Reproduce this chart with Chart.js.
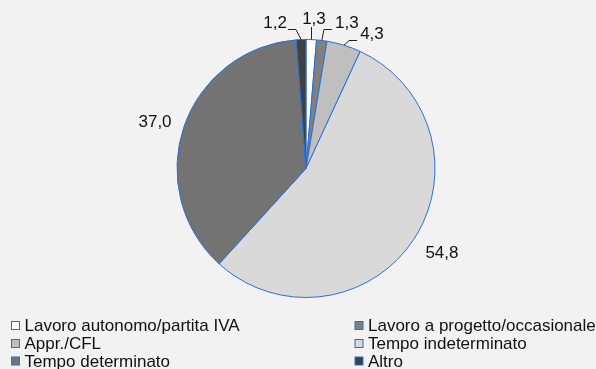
<!DOCTYPE html>
<html>
<head>
<meta charset="utf-8">
<script src="https://cdn.jsdelivr.net/npm/chart.js@4/dist/chart.umd.min.js"></script>
<style>
  html, body { margin: 0; padding: 0; background: #f2f2f2; }
  canvas { display: block; }
</style>
</head>
<body>
<canvas id="pie" width="596" height="369"></canvas>
<script>
/* ---------- data ---------- */
const categories = [
  "Lavoro autonomo/partita IVA",
  "Lavoro a progetto/occasionale",
  "Appr./CFL",
  "Tempo indeterminato",
  "Tempo determinato",
  "Altro"
]
const shares = [1.3, 1.3, 4.3, 54.8, 37.0, 1.2]
const colors = ["#ffffff", "#808080", "#bfbfbf", "#d9d9d9", "#737373", "#404040"]

/* label offsets from the slice edge midpoint, leader side (0 = no leader) */
const labelShift = [[2.7, -20.6], [25, -17.5], [28, -11], [28.5, 13], [-29, -4.5], [-26, -16.5]]
const leaderSide = [2, 1, 1, 0, 0, -1]

const EDGE = "#2a70d2"
const FONT = "17px 'Liberation Sans', Arial, sans-serif"
const fmt = v => v.toFixed(1).replace(".", ",")

/* ---------- value labels with leader lines ---------- */
const valueLabels = {
  id: "valueLabels",
  afterDatasetsDraw(chart) {
    const ctx = chart.ctx
    const arcs = chart.getDatasetMeta(0).data
    ctx.save()
    ctx.font = FONT
    ctx.fillStyle = "#111"
    ctx.strokeStyle = "#222"
    ctx.lineWidth = 1
    ctx.textAlign = "center"
    ctx.textBaseline = "middle"
    arcs.forEach((arc, i) => {
      const { x, y, startAngle, endAngle, outerRadius } = arc.getProps(["x", "y", "startAngle", "endAngle", "outerRadius"], true)
      const mid = (startAngle + endAngle) / 2
      const ax = x + Math.cos(mid) * outerRadius
      const ay = y + Math.sin(mid) * outerRadius
      const lx = ax + labelShift[i][0]
      const ly = ay + labelShift[i][1]
      const txt = fmt(shares[i])
      const w = ctx.measureText(txt).width
      const side = leaderSide[i]
      if (side === 2) {
        ctx.beginPath()
        ctx.moveTo(Math.round(ax) + 0.5, ay)
        ctx.lineTo(Math.round(ax) + 0.5, ly + 8)
        ctx.stroke()
      } else if (side !== 0) {
        const endX = side > 0 ? lx - w / 2 - 3 : lx + w / 2 + 1
        const elbowX = endX - side * 8
        const yy = Math.round(ly + 6) + 0.5
        ctx.beginPath()
        ctx.moveTo(ax, ay)
        ctx.lineTo(elbowX, yy)
        ctx.lineTo(endX, yy)
        ctx.stroke()
      }
      ctx.fillText(txt, lx, ly)
    })
    ctx.restore()
  }
}

/* ---------- two column legend ---------- */
const gridLegend = {
  id: "gridLegend",
  afterDraw(chart) {
    const ctx = chart.ctx
    const colX = [11.5, 355]
    const rowY = [325.5, 343.5, 361]
    ctx.save()
    ctx.font = FONT
    ctx.textBaseline = "middle"
    ctx.textAlign = "left"
    chart.data.labels.forEach((lab, i) => {
      const bx = colX[i % 2]
      const by = rowY[Math.floor(i / 2)]
      ctx.fillStyle = colors[i]
      ctx.fillRect(bx, by - 4, 8, 8)
      ctx.strokeStyle = EDGE
      ctx.lineWidth = 1
      ctx.strokeRect(bx, by - 4, 8, 8)
      ctx.fillStyle = "#111"
      ctx.fillText(lab, bx + 13, by + 1)
    })
    ctx.restore()
  }
}

new Chart(document.getElementById("pie"), {
  type: "pie",
  data: {
    labels: categories,
    datasets: [{
      data: shares,
      backgroundColor: colors,
      borderColor: EDGE,
      borderWidth: 1
    }]
  },
  options: {
    responsive: false,
    animation: false,
    layout: { padding: { left: 176.5, right: 160.5, top: 39, bottom: 71 } },
    plugins: {
      legend: { display: false },
      tooltip: { enabled: false }
    }
  },
  plugins: [valueLabels, gridLegend]
})
</script>
</body>
</html>
